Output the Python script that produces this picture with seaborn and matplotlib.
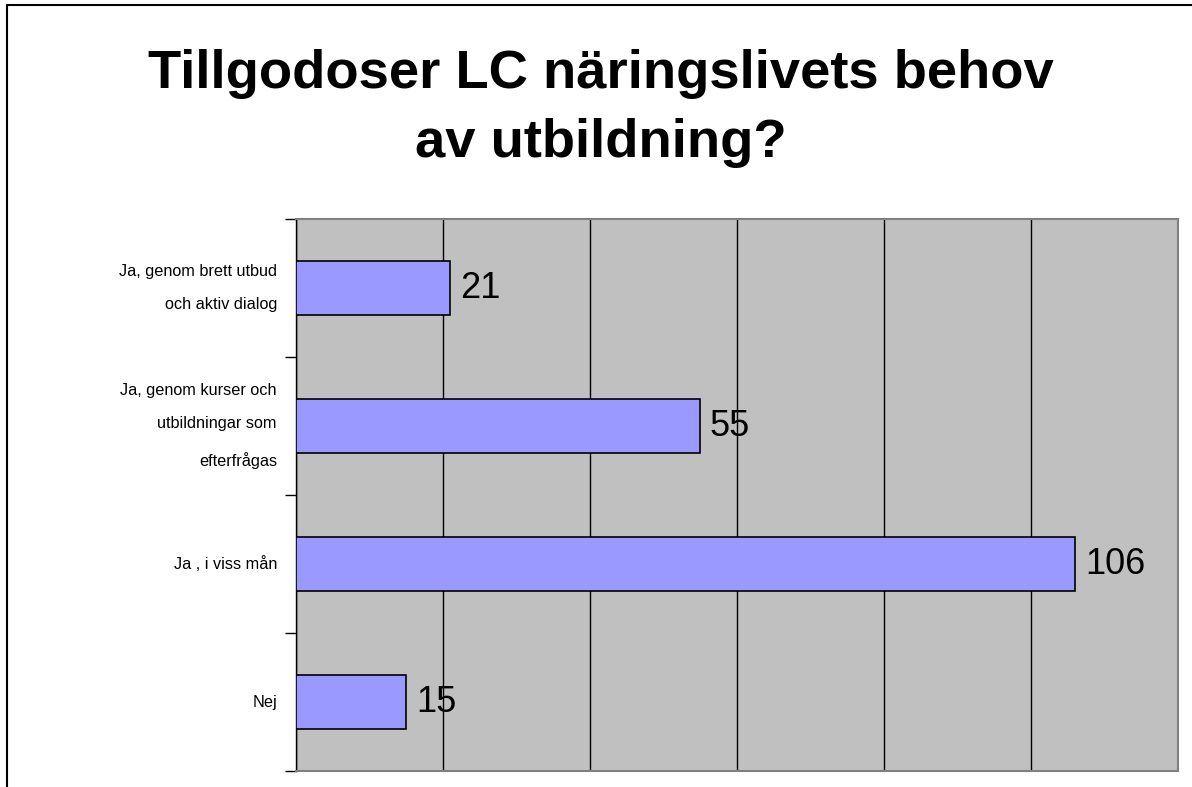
import matplotlib
matplotlib.use("Agg")
import matplotlib.pyplot as plt
import seaborn as sns
import pandas as pd
from matplotlib.lines import Line2D

# --- DATA ---
categories = [
    "Ja, genom brett utbud\noch aktiv dialog",
    "Ja, genom kurser och\nutbildningar som\nefterfrågas",
    "Ja , i viss mån",
    "Nej",
]
answers = [21, 55, 106, 15]
x_ticks = [0, 20, 40, 60, 80, 100, 120]
title = "Tillgodoser LC näringslivets behov\nav utbildning?"

sns.set_theme(style="white")
plt.rcParams["font.family"] = ["Liberation Sans", "DejaVu Sans"]
plt.rcParams["text.color"] = "black"
plt.rcParams["ytick.color"] = "black"
plt.rcParams["ytick.labelcolor"] = "black"

df = pd.DataFrame({"svar": categories, "antal": answers})

fig = plt.figure(figsize=(11.92, 7.87), dpi=100)
ax = fig.add_axes([0.2483, 0.0203, 0.9883 - 0.2483, 0.7217 - 0.0203])
ax.set_facecolor("#C0C0C0")

sns.barplot(data=df, x="antal", y="svar", color="#9999FF", edgecolor="black",
            linewidth=1.2, width=0.39, saturation=1, ax=ax, zorder=3)

ax.set_xlim(x_ticks[0], x_ticks[-1])
ax.set_ylim(len(categories) - 0.5, -0.5)
ax.set_xticks(x_ticks)
ax.set_xticklabels([])
ax.tick_params(axis="x", length=0)
ax.xaxis.grid(True, color="black", linewidth=1)
ax.yaxis.grid(False)
ax.set_axisbelow(True)

# ticks at category boundaries
ax.set_yticks([i - 0.5 for i in range(len(categories) + 1)], minor=True)
ax.tick_params(axis="y", which="minor", left=True, length=8, width=1,
               color="black", direction="out")
ax.tick_params(axis="y", which="major", left=False, length=0, pad=13.7, labelsize=11.7,
               labelcolor="black")
for lbl in ax.get_yticklabels():
    lbl.set_linespacing(2.5)
    lbl.set_horizontalalignment("right")
    lbl.set_verticalalignment("center")

ax.set_xlabel("")
ax.set_ylabel("")

for side in ["top", "right", "bottom"]:
    ax.spines[side].set_color("#808080")
    ax.spines[side].set_linewidth(1.5)
ax.spines["left"].set_color("black")
ax.spines["left"].set_linewidth(1)

ax.bar_label(ax.containers[0], padding=7, fontsize=26, color="black")

fig.text(0.504, 0.862, title, ha="center", va="center", fontsize=39.2,
         fontweight="bold", linespacing=1.48, color="black")

# outer chart frame (top and left edges visible)
fig.add_artist(Line2D([0.006, 1.0], [0.994, 0.994], color="black", linewidth=1.5,
                      transform=fig.transFigure))
fig.add_artist(Line2D([0.006, 0.006], [0.0, 0.994], color="black", linewidth=1.5,
                      transform=fig.transFigure))

fig.savefig("out.png", dpi=100)
